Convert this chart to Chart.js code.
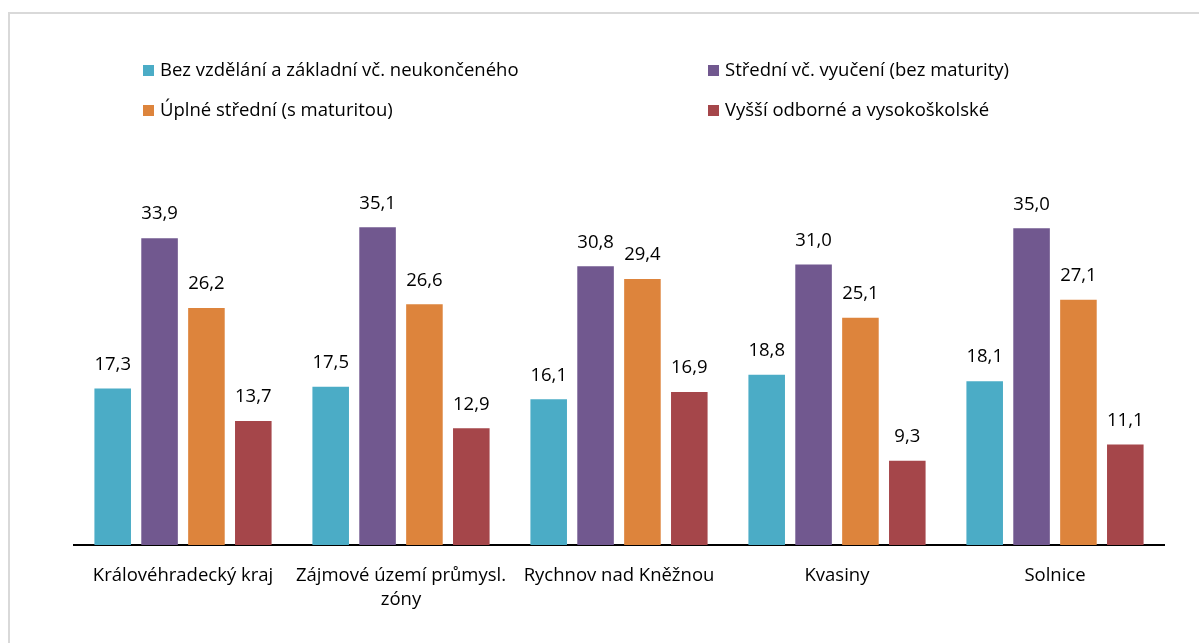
<!DOCTYPE html>
<html>
<head>
<meta charset="utf-8">
<script src="https://cdn.jsdelivr.net/npm/chart.js@4"></script>
<style>
  html, body { margin: 0; padding: 0; background: #fff; }
  #wrap { position: relative; width: 1199px; height: 643px; overflow: hidden; }
  #frame { position: absolute; left: 8px; top: 12px; width: 1200px; height: 700px; border: 2px solid #d9d9d9; box-sizing: border-box; }
  #chart { position: absolute; left: 0; top: 0; }
  .leg { position: absolute; font-family: "Open Sans", sans-serif; font-size: 18.5px; color: #000; white-space: nowrap; line-height: 20px; }
  .leg span { display: inline-block; width: 11px; height: 11px; margin-right: 6px; vertical-align: 0px; }
</style>
</head>
<body>
<div id="wrap">
  <div id="frame"></div>
  <canvas id="chart" width="1199" height="643"></canvas>
  <div id="legend"></div>
</div>
<script>
const categories = ['Královéhradecký kraj', ['Zájmové území průmysl.', 'zóny'], 'Rychnov nad Kněžnou', 'Kvasiny', 'Solnice']
const seriesNames = ['Bez vzdělání a základní vč. neukončeného', 'Střední vč. vyučení (bez maturity)', 'Úplné střední (s maturitou)', 'Vyšší odborné a vysokoškolské']
const zakladni = [17.3, 17.5, 16.1, 18.8, 18.1]
const vyuceni = [33.9, 35.1, 30.8, 31.0, 35.0]
const maturita = [26.2, 26.6, 29.4, 25.1, 27.1]
const vysokoskolske = [13.7, 12.9, 16.9, 9.3, 11.1]
const colors = ['#4BACC6', '#71588F', '#DD843C', '#A5464A']

// legend in two columns, like the original
const legendPos = [[143, 59], [143, 99], [708, 59], [708, 99]]
const legendOrder = [0, 2, 1, 3]
let legend = document.getElementById('legend')
legendOrder.forEach((s, i) => {
  let d = document.createElement('div')
  d.className = 'leg'
  d.style.left = legendPos[i][0] + 'px'
  d.style.top = legendPos[i][1] + 'px'
  d.innerHTML = '<span style="background:' + colors[s] + '"></span>' + seriesNames[s]
  legend.appendChild(d)
})

// value labels above bars
const valueLabels = {
  id: 'valueLabels',
  afterDatasetsDraw(chart) {
    const ctx = chart.ctx
    ctx.save()
    ctx.font = '18.5px "Open Sans", sans-serif'
    ctx.fillStyle = '#000'
    ctx.textAlign = 'center'
    ctx.textBaseline = 'middle'
    chart.data.datasets.forEach((ds, i) => {
      chart.getDatasetMeta(i).data.forEach((bar, j) => {
        ctx.fillText(ds.data[j].toFixed(1).replace('.', ','), bar.x, bar.y - 24)
      })
    })
    ctx.restore()
  }
}

const allSeries = [zakladni, vyuceni, maturita, vysokoskolske]

new Chart(document.getElementById('chart'), {
  type: 'bar',
  data: {
    labels: categories,
    datasets: allSeries.map((d, i) => ({
      label: seriesNames[i],
      data: d,
      backgroundColor: colors[i],
      borderWidth: 0,
      categoryPercentage: 0.86,
      barPercentage: 0.78
    }))
  },
  options: {
    responsive: false,
    animation: false,
    layout: { padding: { top: 183, left: 74, right: 35, bottom: 0 } },
    plugins: {
      legend: { display: false },
      tooltip: { enabled: false }
    },
    scales: {
      x: {
        grid: { display: false, drawTicks: false },
        border: { display: true, color: '#000', width: 2 },
        ticks: { color: '#000', font: { family: '"Open Sans", sans-serif', size: 18.5, lineHeight: 1.3 }, padding: 19, maxRotation: 0, autoSkip: false },
        afterFit: s => { s.height = 98 }
      },
      y: {
        display: false,
        min: 0,
        max: 40
      }
    }
  },
  plugins: [valueLabels]
})
</script>
</body>
</html>
